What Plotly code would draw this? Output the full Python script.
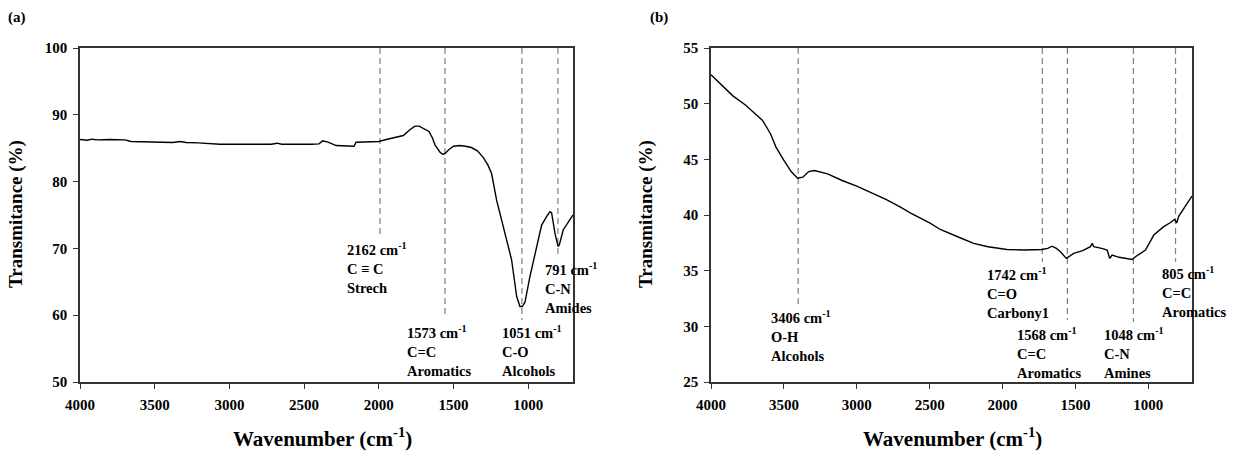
import plotly.graph_objects as go

# ---------------- data: panel (a) ----------------
a_wavenumber = [4000, 3950, 3920, 3880, 3800, 3700, 3658, 3550, 3450, 3380, 3330, 3290, 3209,
                3063, 2900, 2720, 2681, 2650, 2450, 2400, 2376, 2340, 2285, 2166, 2152, 2050,
                2000, 1950, 1888, 1836, 1790, 1758, 1730, 1704, 1664, 1640, 1624, 1590, 1573,
                1557, 1530, 1500, 1460, 1420, 1380, 1340, 1300, 1270, 1245, 1211, 1167, 1111,
                1077, 1055, 1040, 1022, 988, 943, 910, 870, 854, 843, 821, 800, 792, 765, 700]
a_transmittance = [86.3, 86.2, 86.35, 86.25, 86.3, 86.25, 86.0, 85.95, 85.8, 85.85, 86.0, 85.85, 85.8,
                   85.6, 85.6, 85.6, 85.75, 85.6, 85.6, 85.65, 86.1, 85.9, 85.4, 85.3, 85.9, 85.9,
                   86.0, 86.3, 86.6, 86.9, 87.8, 88.3, 88.3, 88.0, 87.5, 86.5, 85.5, 84.4, 84.1,
                   84.2, 84.8, 85.3, 85.4, 85.3, 85.1, 84.6, 83.6, 82.5, 81.2, 77.2, 73.2, 68.3,
                   62.8, 61.3, 61.3, 61.9, 65.8, 70.3, 73.5, 75.0, 75.5, 75.3, 72.3, 70.3, 70.5, 72.8, 75.0]
a_peak_lines = [1992, 1557, 1042, 801]          # drawn dashed-line positions (cm-1)
a_line_bottom = [72.0, 59.6, 59.3, 68.6]         # where each dashed line stops
a_peak_labels = ["2162 cm<sup>-1</sup><br>C ≡ C<br>Strech",
                 "1573 cm<sup>-1</sup><br>C=C<br>Aromatics",
                 "1051 cm<sup>-1</sup><br>C-O<br>Alcohols",
                 "791 cm<sup>-1</sup><br>C-N<br>Amides"]
a_label_x = [2226, 1825, 1189, 901]
a_label_y = [71.6, 59.2, 59.2, 68.5]

# ---------------- data: panel (b) ----------------
b_wavenumber = [4000, 3914, 3850, 3766, 3699, 3646, 3592, 3554, 3500, 3450, 3406, 3370, 3330, 3290,
                3200, 3100, 3000, 2900, 2800, 2700, 2633, 2500, 2427, 2300, 2198, 2100, 1969, 1850,
                1729, 1690, 1660, 1630, 1603, 1562, 1530, 1512, 1450, 1397, 1385, 1374, 1320, 1282,
                1264, 1248, 1200, 1150, 1110, 1088, 1019, 962, 894, 850, 820, 805, 790, 750, 700]
b_transmittance = [52.6, 51.5, 50.7, 49.9, 49.1, 48.5, 47.3, 46.1, 44.9, 43.9, 43.3, 43.4, 43.9, 44.0,
                   43.7, 43.1, 42.6, 42.0, 41.4, 40.7, 40.2, 39.3, 38.7, 38.0, 37.45, 37.15, 36.9, 36.85,
                   36.9, 37.0, 37.2, 37.0, 36.7, 36.1, 36.35, 36.55, 36.8, 37.15, 37.45, 37.15, 37.0, 36.85,
                   36.1, 36.4, 36.2, 36.1, 36.0, 36.25, 36.85, 38.2, 38.95, 39.3, 39.6, 39.3, 39.9, 40.7, 41.7]
b_peak_lines = [3402, 1727, 1555, 1102, 813]
b_line_bottom = [31.9, 35.8, 30.6, 30.4, 35.8]
b_peak_labels = ["3406 cm<sup>-1</sup><br>O-H<br>Alcohols",
                 "1742 cm<sup>-1</sup><br>C=O<br>Carbony1",
                 "1568 cm<sup>-1</sup><br>C=C<br>Aromatics",
                 "1048 cm<sup>-1</sup><br>C-N<br>Amines",
                 "805 cm<sup>-1</sup><br>C=C<br>Aromatics"]
b_label_x = [3602, 2118, 1912, 1315, 923]
b_label_y = [31.8, 35.7, 30.3, 30.3, 35.8]

x_ticks = [4000, 3500, 3000, 2500, 2000, 1500, 1000]
a_y_ticks = [50, 60, 70, 80, 90, 100]
b_y_ticks = [25, 30, 35, 40, 45, 50, 55]

FONT = "Liberation Serif"
AXIS_COLOR = "#333333"
DASH_COLOR = "#7f7f7f"
W, H = 1234, 452
M_TOP, M_BOT = 48, 70
PLOT_H = H - M_TOP - M_BOT


def py(ypx):
    """pixel row (from top) -> paper y"""
    return (H - M_BOT - ypx) / PLOT_H


fig = go.Figure()

# dashed reference lines
for xv, yb in zip(a_peak_lines, a_line_bottom):
    fig.add_trace(go.Scatter(x=[xv, xv], y=[100, yb], mode="lines", xaxis="x", yaxis="y",
                             line=dict(color=DASH_COLOR, width=1.2, dash="6px,4px"),
                             showlegend=False, hoverinfo="skip"))
for xv, yb in zip(b_peak_lines, b_line_bottom):
    fig.add_trace(go.Scatter(x=[xv, xv], y=[55, yb], mode="lines", xaxis="x2", yaxis="y2",
                             line=dict(color=DASH_COLOR, width=1.2, dash="6px,4px"),
                             showlegend=False, hoverinfo="skip"))

# spectra
fig.add_trace(go.Scatter(x=a_wavenumber, y=a_transmittance, mode="lines", xaxis="x", yaxis="y",
                         line=dict(color="black", width=1.4), showlegend=False))
fig.add_trace(go.Scatter(x=b_wavenumber, y=b_transmittance, mode="lines", xaxis="x2", yaxis="y2",
                         line=dict(color="black", width=1.4), showlegend=False))

tickfont = dict(family=FONT, size=15, color="black", weight="bold")
common_axis = dict(showline=True, linecolor=AXIS_COLOR, linewidth=1.5, mirror=True,
                   ticks="outside", ticklen=5, tickwidth=1.2, tickcolor=AXIS_COLOR,
                   showgrid=False, zeroline=False, tickfont=tickfont, ticklabelstandoff=3,
                   automargin=False)

label_font = dict(family=FONT, size=14.5, color="black", weight="bold")
annotations = []
for txt, xv, yv in zip(a_peak_labels, a_label_x, a_label_y):
    annotations.append(dict(text=txt, x=xv, y=yv, xref="x", yref="y", xanchor="left", yanchor="top",
                            align="left", showarrow=False, font=label_font))
for txt, xv, yv in zip(b_peak_labels, b_label_x, b_label_y):
    annotations.append(dict(text=txt, x=xv, y=yv, xref="x2", yref="y2", xanchor="left", yanchor="top",
                            align="left", showarrow=False, font=label_font))

title_font = dict(family=FONT, size=21, color="black", weight="bold")
ytitle_font = dict(family=FONT, size=19, color="black", weight="bold")
letter_font = dict(family=FONT, size=15, color="black", weight="bold")
annotations += [
    dict(text="(a)", x=6 / W, y=py(17), xref="paper", yref="paper",
         xanchor="left", yanchor="middle", showarrow=False, font=letter_font),
    dict(text="(b)", x=648 / W, y=py(17), xref="paper", yref="paper",
         xanchor="left", yanchor="middle", showarrow=False, font=letter_font),
    dict(text="Transmitance (%)", x=16 / W, y=py(214), xref="paper", yref="paper",
         textangle=-90, showarrow=False, xanchor="center", yanchor="middle", font=ytitle_font),
    dict(text="Transmitance (%)", x=646 / W, y=py(214), xref="paper", yref="paper",
         textangle=-90, showarrow=False, xanchor="center", yanchor="middle", font=ytitle_font),
    dict(text="Wavenumber (cm<sup>-1</sup>)", x=322 / W, y=py(437), xref="paper", yref="paper",
         showarrow=False, xanchor="center", yanchor="middle", font=title_font),
    dict(text="Wavenumber (cm<sup>-1</sup>)", x=952 / W, y=py(437), xref="paper", yref="paper",
         showarrow=False, xanchor="center", yanchor="middle", font=title_font),
]

fig.update_layout(
    width=W, height=H,
    margin=dict(l=0, r=0, t=M_TOP, b=M_BOT, autoexpand=False),
    paper_bgcolor="white", plot_bgcolor="white",
    xaxis=dict(domain=[80 / W, 573 / W], range=[4000, 700], tickvals=x_ticks,
               anchor="y", **common_axis),
    yaxis=dict(domain=[0, 1], range=[50, 100], tickvals=a_y_ticks, anchor="x", **common_axis),
    xaxis2=dict(domain=[711 / W, 1192 / W], range=[4000, 700], tickvals=x_ticks,
                anchor="y2", **common_axis),
    yaxis2=dict(domain=[0, 1], range=[25, 55], tickvals=b_y_ticks, anchor="x2", **common_axis),
    annotations=annotations,
    showlegend=False,
)

fig.write_html("out.html")
